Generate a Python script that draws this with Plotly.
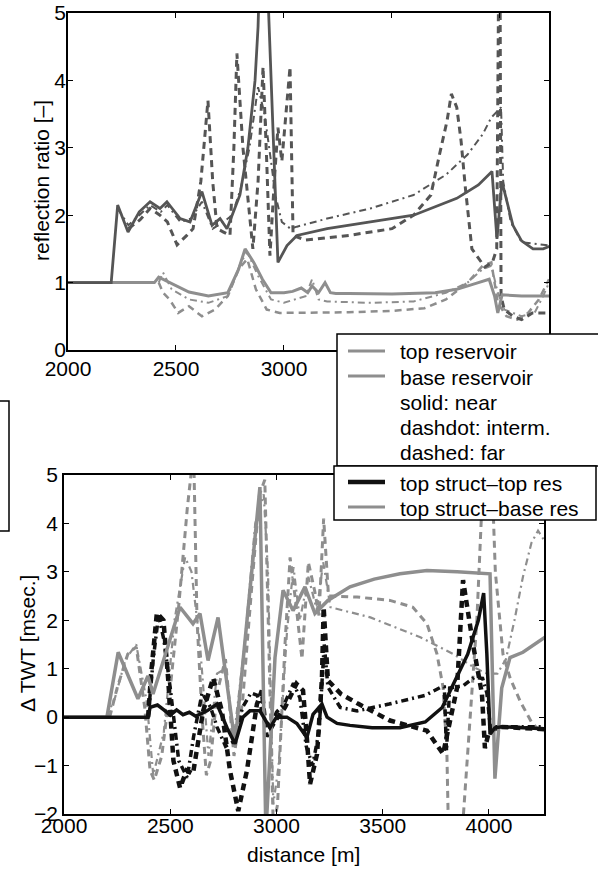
import plotly.graph_objects as go

W, H = 598, 869

# ---------------- top panel: reflection ratio ----------------
top_near_x = [2000, 2400, 2420, 2440, 2500, 2560, 2650, 2740, 2790, 2820, 2860, 2900, 2940, 3000, 3040, 3080,
              3110, 3130, 3160, 3190, 3215, 3240, 3300, 3500, 3700, 3800, 3900, 3950, 3975, 3990, 4010, 4100, 4260]
top_near_y = [1.0, 1.0, 1.08, 1.05, 0.95, 0.86, 0.8, 0.85, 1.2, 1.5, 1.3, 1.05, 0.85, 0.85, 0.87, 0.92,
              0.85, 0.95, 0.85, 1.0, 0.85, 0.84, 0.84, 0.83, 0.85, 0.9, 1.0, 1.05, 0.8, 0.55, 0.82, 0.8, 0.8]

top_int_x = [2420, 2440, 2480, 2560, 2650, 2740, 2800, 2830, 2880, 2940, 3000, 3100, 3130, 3160, 3200, 3400,
             3600, 3750, 3850, 3920, 3960, 3990, 4020, 4100, 4160, 4200, 4227]
top_int_y = [1.0, 1.15, 0.9, 0.75, 0.7, 0.8, 1.3, 1.45, 1.1, 0.75, 0.7, 0.8, 1.05, 0.75, 0.72, 0.7,
             0.72, 0.85, 1.0, 1.2, 1.25, 0.85, 0.6, 0.5, 0.55, 0.8, 1.0]

top_far_x = [2420, 2440, 2470, 2510, 2560, 2620, 2680, 2740, 2790, 2830, 2870, 2920, 2980, 3050, 3150, 3300,
             3500, 3650, 3750, 3850, 3920, 3960, 3990, 4030, 4080, 4130, 4180, 4227]
top_far_y = [1.0, 0.85, 0.75, 0.55, 0.65, 0.5, 0.6, 0.8, 1.2, 1.35, 0.9, 0.6, 0.55, 0.55, 0.55, 0.56,
             0.58, 0.62, 0.75, 1.0, 1.25, 1.3, 0.7, 0.5, 0.45, 0.55, 0.75, 1.05]

base_near_x = [2000, 2200, 2230, 2278, 2330, 2380, 2426, 2458, 2519, 2565, 2620, 2667, 2704, 2736, 2796, 2833,
               2866, 2880, 2895, 2915, 2972, 2990, 3014, 3060, 3200, 3400, 3600, 3800, 3900, 3963, 3986, 4009,
               4060, 4100, 4153, 4200, 4260]
base_near_y = [1.0, 1.0, 2.15, 1.75, 2.05, 2.2, 2.1, 2.2, 1.95, 1.9, 2.35, 1.85, 1.95, 1.8, 2.3, 3.0,
               4.0, 4.8, 6.5, 6.2, 1.3, 1.4, 1.55, 1.7, 1.8, 1.9, 2.0, 2.25, 2.45, 2.65, 1.65, 2.5,
               1.85, 1.62, 1.5, 1.5, 1.58]

base_int_x = [2230, 2280, 2330, 2380, 2430, 2460, 2520, 2570, 2620, 2670, 2720, 2760, 2800, 2840, 2880, 2910,
              2940, 2960, 2990, 3030, 3060, 3200, 3400, 3600, 3750, 3850, 3920, 3960, 3990, 4005, 4015, 4050,
              4100, 4227]
base_int_y = [2.1, 1.85, 2.0, 2.15, 2.05, 2.15, 1.9, 1.95, 2.2, 1.8, 1.9, 2.0, 2.4, 3.0, 3.9, 3.5,
              2.8, 2.3, 1.9, 1.8, 1.83, 1.95, 2.1, 2.3, 2.6, 2.9, 3.2, 3.45, 3.55, 3.6, 2.5, 1.9,
              1.6, 1.55]

base_far_x = [2280, 2333, 2380, 2426, 2460, 2505, 2550, 2579, 2615, 2648, 2670, 2690, 2720, 2750, 2768, 2782,
              2810, 2856, 2880, 2903, 2920, 2935, 2955, 2972, 2990, 3010, 3028, 3042, 3100, 3300, 3500, 3600,
              3680, 3720, 3755, 3775, 3800, 3820, 3840, 3870, 3930, 3965, 3985, 3995, 4000, 4005, 4020, 4060,
              4100, 4150, 4227]
base_far_y = [1.8, 1.93, 2.1, 2.0, 1.9, 1.56, 1.7, 1.8, 2.5, 3.7, 2.5, 1.8, 1.75, 1.7, 3.0, 4.4,
              3.0, 1.5, 2.5, 4.2, 2.8, 1.4, 2.5, 3.3, 2.8, 3.5, 4.2, 1.7, 1.63, 1.7, 1.8, 2.0,
              2.3, 2.9, 3.4, 3.8, 3.6, 3.1, 2.4, 1.5, 1.23, 1.3, 1.5, 6.0, 6.0, 0.8, 0.6, 0.5,
              0.45, 0.55, 0.55]

# ---------------- bottom panel: delta TWT ----------------
tt_near_x = [2000, 2396, 2405, 2440, 2470, 2500, 2530, 2560, 2590, 2620, 2650, 2673, 2720, 2767, 2805, 2842,
             2875, 2922, 2969, 3000, 3049, 3096, 3143, 3172, 3214, 3238, 3285, 3346, 3450, 3581, 3700, 3780,
             3840, 3900, 3950, 3975, 3990, 4005, 4028, 4060, 4260]
tt_near_y = [0, 0, 0.2, 0.25, 0.15, 0.04, 0.15, 0.05, 0.1, 0.02, 0.08, 0.13, 0.27, -0.22, -0.55, 0.0,
             0.13, 0.13, -0.22, 0.0, 0.0, -0.13, -0.42, 0.06, 0.27, 0.0, -0.13, -0.17, -0.22, -0.22, -0.1, 0.2,
             0.75, 1.3, 2.0, 2.56, 1.31, -0.35, -0.22, -0.2, -0.24]

tt_int_x = [2396, 2420, 2445, 2470, 2500, 2540, 2580, 2610, 2650, 2690, 2720, 2760, 2800, 2840, 2880, 2910,
            2940, 2970, 3000, 3040, 3080, 3110, 3140, 3170, 3200, 3225, 3242, 3300, 3380, 3530, 3700, 3775,
            3790, 3800, 3815, 3880, 3930, 3970, 3990, 4010, 4030, 4260]
tt_int_y = [0, 1.2, 2.1, 1.6, 0.6, -0.9, -1.25, -0.4, 0.5, 0.2, -0.2, -0.6, -0.5, 0.2, 0.5, 0.45,
            0.0, -0.2, 0.1, 0.3, 0.7, 0.4, -0.6, -1.0, -0.3, 1.5, 0.62, 0.2, 0.13, 0.27, 0.45, 0.62,
            0.62, -0.7, 0.6, 0.65, 0.82, 0.8, 0.5, -0.35, -0.2, -0.2]

tt_far_x = [2396, 2410, 2437, 2468, 2490, 2515, 2546, 2577, 2607, 2655, 2702, 2743, 2781, 2820, 2861, 2908,
            2931, 2953, 2990, 3040, 3094, 3125, 3143, 3158, 3191, 3214, 3222, 3242, 3303, 3383, 3534, 3708,
            3784, 3850, 3878, 3925, 3967, 3981, 4000, 4050, 4260]
tt_far_y = [0, 0.9, 2.15, 2.0, 0.8, -0.9, -1.46, -1.1, -1.17, 0.13, 0.81, 0.13, -1.1, -1.94, -1.1, 0.27,
            0.55, -0.4, -0.1, 0.2, 0.69, 0.55, -0.43, -1.38, -0.76, 0.81, 2.27, 0.76, 0.48, 0.28, -0.07, -0.28,
            -0.76, 0.61, 2.83, 1.5, 0.48, -0.64, -0.3, -0.2, -0.25]

tb_near_x = [2000, 2202, 2255, 2348, 2395, 2419, 2546, 2607, 2640, 2678, 2725, 2805, 2922, 2950, 2993, 3031,
             3078, 3134, 3181, 3242, 3346, 3460, 3581, 3708, 3850, 4005, 4028, 4060, 4099, 4160, 4264]
tb_near_y = [0, 0, 1.34, 0.38, 0.85, 0.48, 2.27, 1.93, 2.14, 1.17, 2.06, -0.55, 4.75, -2.4, 1.23, 2.62,
             2.2, 2.69, 2.14, 2.41, 2.69, 2.85, 2.96, 3.03, 3.0, 2.96, -1.27, 0.6, 1.23, 1.34, 1.65]

tb_int_x = [2200, 2240, 2290, 2340, 2390, 2420, 2470, 2520, 2570, 2600, 2640, 2680, 2720, 2760, 2800, 2850,
            2900, 2940, 2960, 2985, 3010, 3050, 3080, 3110, 3150, 3190, 3220, 3254, 3442, 3677, 3834, 3928,
            3990, 4040, 4080, 4120, 4160, 4200, 4231, 4260]
tb_int_y = [0, 0.4, 1.2, 1.5, 0.3, -1.2, -0.3, 2.0, 3.3, 3.0, 1.5, -0.8, 0.9, 1.0, -0.4, 1.5,
            4.0, 4.6, 3.0, -1.8, -1.0, 1.8, 3.1, 2.0, 2.9, 2.2, 3.2, 2.27, 2.06, 1.65, 1.3, 1.03,
            0.9, 0.9, 1.2, 2.0, 2.9, 3.6, 3.85, 3.65]

tb_far_x = [2215, 2250, 2300, 2340, 2380, 2405, 2425, 2460, 2500, 2540, 2580, 2610, 2626, 2650, 2670, 2690,
            2720, 2760, 2800, 2840, 2880, 2920, 2945, 2965, 2985, 3005, 3040, 3064, 3090, 3120, 3150, 3180,
            3200, 3222, 3245, 3270, 3379, 3534, 3642, 3708, 3755, 3784, 3802, 3810, 3870, 3880, 3911, 3943,
            3975, 4010, 4030, 4066, 4100, 4150, 4200, 4230, 4260]
tb_far_y = [0, 0.6, 1.3, 1.45, 0.2, -1.1, -1.3, -0.8, 0.6, 2.3, 4.3, 5.5, 2.0, 0.0, -1.2, -0.9,
            0.5, 1.2, -0.8, 0.3, 2.5, 4.6, 4.9, 1.0, -2.3, -1.8, 1.5, 3.3, 2.4, 1.2, 3.2, 2.6,
            2.1, 4.1, 2.5, 2.5, 2.48, 2.41, 2.27, 1.93, 1.31, 0.62, -0.75, -2.5, -2.5, -2.0, 0.0, 2.0,
            5.2, 5.5, 3.0, 1.3, 0.8, 0.3, -0.1, -0.25, -0.3]

# tick labels
x_tickvals = [2000, 2500, 3000, 3500, 4000]
x_ticktext_top = ["2000", "2500", "3000", "", ""]   # 3500/4000 hidden under the legend in the original
x_ticktext_bot = ["2000", "2500", "3000", "3500", "4000"]
y_top_ticks = [0, 1, 2, 3, 4, 5]
y_bot_ticks = [-2, -1, 0, 1, 2, 3, 4, 5]

# ---------------- styles ----------------
GRAY_TOP = "#8e8e8e"
GRAY_BASE = "#555555"
BLACK = "#111111"
GRAY_B = "#8e8e8e"
DASH = "7px,5px"
DASHDOT = "7px,4px,2px,4px"
FONT = "Liberation Sans, Arial, sans-serif"
FS = 21

fig = go.Figure()

def add(x, y, color, width, dash, xa, ya):
    fig.add_trace(go.Scatter(x=x, y=y, mode="lines", xaxis=xa, yaxis=ya, showlegend=False,
                             line=dict(color=color, width=width, dash=dash), hoverinfo="skip"))

# top panel
add(top_far_x, top_far_y, GRAY_TOP, 2.5, DASH, "x", "y")
add(top_int_x, top_int_y, GRAY_TOP, 2.0, DASHDOT, "x", "y")
add(base_far_x, base_far_y, GRAY_BASE, 3.0, DASH, "x", "y")
add(base_int_x, base_int_y, GRAY_BASE, 2.0, DASHDOT, "x", "y")
add(top_near_x, top_near_y, GRAY_TOP, 3.0, "solid", "x", "y")
add(base_near_x, base_near_y, GRAY_BASE, 2.8, "solid", "x", "y")

# bottom panel
add(tb_far_x, tb_far_y, GRAY_B, 3.0, DASH, "x2", "y2")
add(tb_int_x, tb_int_y, GRAY_B, 2.2, DASHDOT, "x2", "y2")
add(tt_far_x, tt_far_y, BLACK, 4.5, DASH, "x2", "y2")
add(tt_int_x, tt_int_y, BLACK, 3.5, DASHDOT, "x2", "y2")
add(tb_near_x, tb_near_y, GRAY_B, 3.5, "solid", "x2", "y2")
add(tt_near_x, tt_near_y, BLACK, 3.5, "solid", "x2", "y2")

def px(v):
    return v / W

def py(v):
    return 1 - v / H

axis_common = dict(showline=True, linecolor="black", linewidth=1.5, mirror="ticks", ticks="inside",
                   ticklen=5, tickcolor="black", tickwidth=1, showgrid=False, zeroline=False,
                   tickfont=dict(family=FONT, size=FS, color="black"), automargin=False)

fig.update_layout(
    width=W, height=H, margin=dict(l=0, r=0, t=0, b=0),
    paper_bgcolor="white", plot_bgcolor="white",
    xaxis=dict(domain=[px(68), px(549)], range=[2000, 4227], anchor="y",
               tickmode="array", tickvals=x_tickvals, ticktext=x_ticktext_top,
               ticklabelstandoff=-1, **axis_common),
    yaxis=dict(domain=[py(350), py(13)], range=[0, 5], anchor="x",
               tickmode="array", tickvals=y_top_ticks, ticklabelstandoff=-4, **axis_common),
    xaxis2=dict(domain=[px(64), px(544)], range=[2000, 4259], anchor="y2",
                tickmode="array", tickvals=x_tickvals, ticktext=x_ticktext_bot,
                ticklabelstandoff=-8, **axis_common),
    yaxis2=dict(domain=[py(814), py(475)], range=[-2, 5], anchor="x2",
                tickmode="array", tickvals=y_bot_ticks, ticklabelstandoff=0, **axis_common),
)

shapes = []
annots = []

# axis titles
annots.append(dict(text="reflection ratio [\u2013]", x=px(41), y=py(181), xref="paper", yref="paper",
                   xanchor="center", yanchor="middle", textangle=-90, showarrow=False,
                   font=dict(family=FONT, size=FS, color="black")))
annots.append(dict(text="\u0394 TWT [msec.]", x=px(27), y=py(644), xref="paper", yref="paper",
                   xanchor="center", yanchor="middle", textangle=-90, showarrow=False,
                   font=dict(family=FONT, size=FS, color="black")))
annots.append(dict(text="distance [m]", x=px(303), y=py(854), xref="paper", yref="paper",
                   xanchor="center", yanchor="middle", showarrow=False,
                   font=dict(family=FONT, size=FS, color="black")))

# partial box at left edge
shapes.append(dict(type="rect", xref="paper", yref="paper", x0=px(-3), x1=px(9), y0=py(531), y1=py(401),
                   line=dict(color="black", width=1.5), fillcolor="rgba(0,0,0,0)"))

# legend boxes
shapes.append(dict(type="rect", xref="paper", yref="paper", x0=px(337), x1=px(605), y0=py(466), y1=py(334),
                   line=dict(color="black", width=1.5), fillcolor="white", layer="above"))
shapes.append(dict(type="rect", xref="paper", yref="paper", x0=px(334), x1=px(596), y0=py(520), y1=py(466),
                   line=dict(color="black", width=1.5), fillcolor="white", layer="above"))

legend_rows = [
    ("top reservoir", 352, GRAY_TOP, 3),
    ("base reservoir", 377, GRAY_TOP, 3),
    ("solid: near", 402, None, 0),
    ("dashdot: interm.", 427, None, 0),
    ("dashed: far", 452, None, 0),
    ("top struct\u2013top res", 483, BLACK, 4.5),
    ("top struct\u2013base res", 508, GRAY_B, 3),
]
for label, yy, col, lw in legend_rows:
    if col is not None:
        shapes.append(dict(type="line", xref="paper", yref="paper", x0=px(348), x1=px(385),
                           y0=py(yy - 1), y1=py(yy - 1), line=dict(color=col, width=lw), layer="above"))
    annots.append(dict(text=label, x=px(399), y=py(yy), xref="paper", yref="paper", xanchor="left",
                       yanchor="middle", showarrow=False, borderpad=0,
                       font=dict(family=FONT, size=FS, color="black")))

fig.update_layout(shapes=shapes, annotations=annots)
fig.write_html("out.html", config={"displayModeBar": False},
               post_script="document.body.style.margin='0px';document.body.style.overflow='hidden';")
